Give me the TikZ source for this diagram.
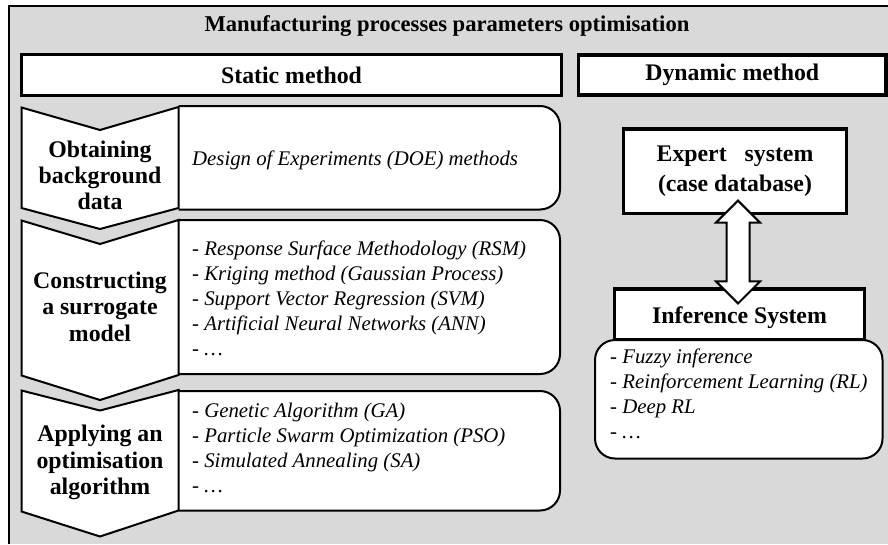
\documentclass[tikz,border=0pt]{standalone}
\usepackage{fontspec}
\setmainfont{Liberation Serif}
\usetikzlibrary{calc}
\definecolor{panel}{HTML}{D9D9D9}

\begin{document}
\begin{tikzpicture}[x=1pt,y=-1pt,
  hb/.style={font=\fontsize{23.8}{26}\selectfont\bfseries, inner sep=0pt, anchor=base},
  it/.style={font=\fontsize{20.8}{25}\selectfont\itshape, inner sep=0pt, anchor=base west},
  chev/.style={draw, fill=white, line width=2pt, line join=miter},
  rbox/.style={draw, fill=white, line width=2pt, rounded corners=20pt},
  hdr/.style={draw, fill=white, line width=3.5pt, inner sep=0pt,
              font=\fontsize{23.8}{26}\selectfont\bfseries},
  sysbox/.style={draw, fill=white, line width=3.2pt, inner sep=0pt},
]
\useasboundingbox (0,0) rectangle (888,544);

% outer panel
\fill[panel] (9,5.5) rectangle (888,544);
\draw[line width=2pt] (9,544) -- (9,5.5) -- (888,5.5);

\node[hb] (title) at (447,31.7) {\fontsize{22.6}{26}\selectfont Manufacturing processes parameters optimisation};

% column headers
\node[hdr, minimum width=540pt, minimum height=41pt] (static) at (291.5,75) {Static method};
\node[hdr, minimum width=307.5pt, minimum height=40pt] (dynamic) at (732.25,75) {Dynamic method};

% static method: three stages
\draw[rbox] (178.5,106) -- (560,106) -- (560,209.5) -- (178.5,209.5);
\draw[chev] (21.5,107.5) -- (100,130) -- (178.5,107) -- (178.5,208) -- (100,229) -- (21.5,208) -- cycle;

\draw[rbox] (178.5,220) -- (560,220) -- (560,374) -- (178.5,374);
\draw[chev] (21.5,220.5) -- (100,244) -- (178.5,220) -- (178.5,375) -- (100,400) -- (21.5,375.5) -- cycle;

\draw[rbox] (178.5,391) -- (560,391) -- (560,510.5) -- (178.5,510.5);
\draw[chev] (21.5,390.5) -- (100,410.5) -- (178.5,390) -- (178.5,510.5) -- (100,536.5) -- (21.5,511.5) -- cycle;

\foreach \t [count=\i] in {Obtaining, background, data}
  \node[hb] (sa\i) at (100,{157+26*(\i-1)}) {\t};
\foreach \t [count=\i] in {Constructing, a surrogate, model}
  \node[hb] (sb\i) at (100,{288+26.5*(\i-1)}) {\t};
\foreach \t [count=\i] in {Applying an, optimisation, algorithm}
  \node[hb] (sc\i) at (100,{441.5+26.5*(\i-1)}) {\t};

\node[it] (doe) at (192,165.5) {Design of Experiments (DOE) methods};
\foreach \t [count=\i] in {Response Surface Methodology (RSM), Kriging method (Gaussian Process),
    Support Vector Regression (SVM), Artificial Neural Networks (ANN), \ldots}
  \node[it] (sm\i) at (192,{255+25*(\i-1)}) {- \t};
\foreach \t [count=\i] in {Genetic Algorithm (GA), Particle Swarm Optimization (PSO),
    Simulated Annealing (SA), \ldots}
  \node[it] (oa\i) at (192,{417+25*(\i-1)}) {- \t};

% dynamic method
\node[sysbox, minimum width=223pt, minimum height=84.5pt, align=center,
      font=\fontsize{23.8}{30}\selectfont\bfseries] (expert) at (735,171.25)
      {Expert\hspace{12pt} system\\(case database)};
\node[sysbox, minimum width=250pt, minimum height=51pt] (infer) at (739.5,314.5) {};
\node[hb] (inferlabel) at (739.5,323) {Inference System};

\node[rbox, minimum width=287.5pt, minimum height=118.5pt, inner sep=0pt] (list) at (738.75,399.25) {};
\foreach \t [count=\i] in {Fuzzy inference, Reinforcement Learning (RL), Deep RL, \ldots}
  \node[it] (il\i) at (610,{363+25*(\i-1)}) {- \t};

% two-way arrow between the expert system and the inference system
\coordinate (atop) at ($(expert.south)+(3,-14.5)$);
\coordinate (abot) at ($(infer.north)+(-1.5,16)$);
\draw[line width=2pt, fill=white, line join=miter]
  (atop) -- ($(atop)+(22,22)$) -- ($(atop)+(11.5,22)$) -- ($(abot)+(11.5,-22)$)
  -- ($(abot)+(22,-22)$) -- (abot) -- ($(abot)+(-22,-22)$) -- ($(abot)+(-11.5,-22)$)
  -- ($(atop)+(-11.5,22)$) -- ($(atop)+(-22,22)$) -- cycle;
\end{tikzpicture}
\end{document}
